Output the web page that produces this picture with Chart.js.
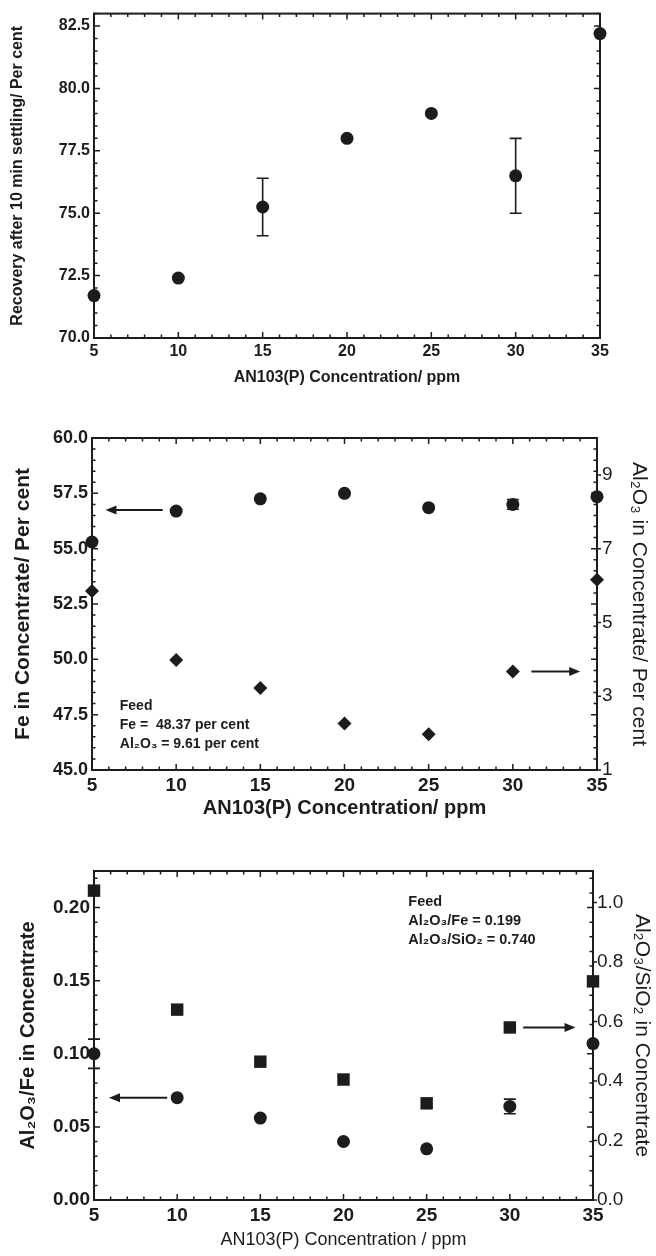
<!DOCTYPE html>
<html>
<head>
<meta charset="utf-8">
<script src="https://cdn.jsdelivr.net/npm/chart.js@4.4.1/dist/chart.umd.min.js"></script>
<style>
  body { margin: 0; background: #fff; }
  canvas.panel { position: absolute; left: 0; }
</style>
</head>
<body>
<canvas id="panelA" class="panel" width="656" height="400" style="top:0px"></canvas>
<canvas id="panelB" class="panel" width="656" height="420" style="top:410px"></canvas>
<canvas id="panelC" class="panel" width="656" height="416" style="top:840px"></canvas>
<script>
(function () {
    'use strict';

    // AN103(P) dosage, ppm (shared x values)
    var concentration = [5, 10, 15, 20, 25, 30, 35];
    var xTicks = [5, 10, 15, 20, 25, 30, 35];

    // Panel A: recovery after 10 min settling
    var recovery = [71.7, 72.4, 75.25, 78.0, 79.0, 76.5, 82.2];
    var recoveryErr = [0, 0, 1.15, 0, 0, 1.5, 0];
    var recoveryTicks = [70, 72.5, 75, 77.5, 80, 82.5];

    // Panel B: Fe and Al2O3 grade of the concentrate
    var feGrade = [55.3, 56.7, 57.25, 57.5, 56.85, 57.0, 57.35];
    var feErr = [0, 0, 0, 0, 0, 0.22, 0];
    var al2o3Grade = [5.85, 3.98, 3.22, 2.26, 1.97, 3.67, 6.16];
    var feTicks = [45, 47.5, 50, 52.5, 55, 57.5, 60];
    var al2o3Ticks = [1, 3, 5, 7, 9];

    // Panel C: Al2O3/Fe and Al2O3/SiO2 ratios
    var al2o3FeRatio = [0.100, 0.070, 0.056, 0.040, 0.035, 0.064, 0.107];
    var al2o3FeErr = [0.01, 0, 0, 0, 0, 0.005, 0];
    var al2o3SiO2Ratio = [1.04, 0.64, 0.465, 0.405, 0.325, 0.58, 0.735];
    var ratioFeTicks = [0, 0.05, 0.10, 0.15, 0.20];
    var ratioSiTicks = [0, 0.2, 0.4, 0.6, 0.8, 1.0];

    var SANS = "'Liberation Sans', Arial, 'DejaVu Sans', sans-serif";
    var INK = '#1c1c1c';

    function points(ys) {
        return concentration.map(function (x, i) { return { x: x, y: ys[i] }; });
    }

    function fixedTicks(list) {
        return function (scale) {
            scale.ticks = list.map(function (v) { return { value: v }; });
        };
    }

    function fixWidth(w) { return function (s) { s.width = w; }; }
    function fixHeight(h) { return function (s) { s.height = h; }; }

    function isMajor(v, step) {
        return Math.abs(v / step - Math.round(v / step)) < 1e-6;
    }

    // frame with inward major/minor ticks on all four sides
    var framePlugin = {
        id: 'frame',
        beforeDatasetsDraw: function (chart, args, opts) {
            var a = chart.chartArea, ctx = chart.ctx;
            var xs = chart.scales.x, ys = chart.scales.y, y2 = chart.scales.y2;
            ctx.save();
            ctx.strokeStyle = INK;
            ctx.lineWidth = 2;
            ctx.strokeRect(a.left, a.top, a.right - a.left, a.bottom - a.top);
            ctx.lineWidth = 1.5;
            ctx.beginPath();
            var i, v, p, len, n;
            n = Math.floor((xs.max - xs.min) / opts.xMinor + 1e-6);
            for (i = 0; i <= n; i++) {
                v = xs.min + i * opts.xMinor;
                len = isMajor(v, opts.xMajor) ? 6 : 3.5;
                p = xs.getPixelForValue(v);
                ctx.moveTo(p, a.bottom); ctx.lineTo(p, a.bottom - len);
                ctx.moveTo(p, a.top); ctx.lineTo(p, a.top + len);
            }
            n = Math.floor((ys.max - ys.min) / opts.yMinor + 1e-6);
            for (i = 0; i <= n; i++) {
                v = ys.min + i * opts.yMinor;
                len = isMajor(v, opts.yMajor) ? 6 : 3.5;
                p = ys.getPixelForValue(v);
                ctx.moveTo(a.left, p); ctx.lineTo(a.left + len, p);
                ctx.moveTo(a.right, p); ctx.lineTo(a.right - len, p);
            }
            if (y2) {
                y2.ticks.forEach(function (t) {
                    var q = y2.getPixelForValue(t.value);
                    ctx.moveTo(a.right, q); ctx.lineTo(a.right + 4, q);
                });
            }
            ctx.stroke();
            ctx.restore();
        }
    };

    // vertical error bars, arrows and feed notes
    var extrasPlugin = {
        id: 'extras',
        afterDatasetsDraw: function (chart, args, opts) {
            var ctx = chart.ctx, xs = chart.scales.x;
            ctx.save();
            ctx.strokeStyle = INK;
            ctx.fillStyle = INK;
            chart.data.datasets.forEach(function (ds) {
                if (!ds.errorBars) return;
                var ys = chart.scales[ds.yAxisID || 'y'];
                ctx.lineWidth = 1.6;
                ctx.beginPath();
                ds.data.forEach(function (pt, i) {
                    var e = ds.errorBars[i];
                    if (!e) return;
                    var px = xs.getPixelForValue(pt.x);
                    var hi = ys.getPixelForValue(pt.y + e), lo = ys.getPixelForValue(pt.y - e);
                    ctx.moveTo(px, hi); ctx.lineTo(px, lo);
                    ctx.moveTo(px - 6, hi); ctx.lineTo(px + 6, hi);
                    ctx.moveTo(px - 6, lo); ctx.lineTo(px + 6, lo);
                });
                ctx.stroke();
            });
            (opts.arrows || []).forEach(function (ar) {
                var ys = chart.scales[ar.axis];
                var x1 = xs.getPixelForValue(ar.from), x2 = xs.getPixelForValue(ar.to);
                var y = ys.getPixelForValue(ar.y);
                var dir = x2 > x1 ? 1 : -1;
                ctx.lineWidth = 2;
                ctx.beginPath();
                ctx.moveTo(x1, y); ctx.lineTo(x2 - dir * 8, y);
                ctx.stroke();
                ctx.beginPath();
                ctx.moveTo(x2, y);
                ctx.lineTo(x2 - dir * 11, y - 4.5);
                ctx.lineTo(x2 - dir * 11, y + 4.5);
                ctx.closePath();
                ctx.fill();
            });
            if (opts.note) {
                var nt = opts.note;
                var nx = xs.getPixelForValue(nt.x), ny = chart.scales[nt.axis].getPixelForValue(nt.y);
                ctx.font = nt.font;
                ctx.textAlign = 'left';
                ctx.textBaseline = 'middle';
                nt.lines.forEach(function (line, i) {
                    ctx.fillText(line, nx, ny + i * nt.lineHeight);
                });
            }
            ctx.restore();
        }
    };

    var noGrid = { display: false, drawTicks: false };

    function xScale(tickSize, titleText, titleFont, titlePad, height) {
        return {
            type: 'linear',
            min: 5, max: 35,
            afterBuildTicks: fixedTicks(xTicks),
            afterFit: fixHeight(height),
            grid: noGrid,
            border: { display: false },
            ticks: { color: INK, padding: 4, maxRotation: 0, font: { family: SANS, size: tickSize, weight: 'bold' } },
            title: { display: true, text: titleText, color: INK, font: titleFont, padding: { top: 0, bottom: titlePad } }
        };
    }

    function baseOptions(padding) {
        return {
            responsive: false,
            animation: false,
            events: [],
            layout: { padding: padding, autoPadding: false },
            plugins: { legend: { display: false }, tooltip: { enabled: false } }
        };
    }

    // ---- Panel A ----
    var optA = baseOptions({ top: 4, right: 56, left: 0, bottom: 0 });
    optA.scales = {
        x: xScale(16, 'AN103(P) Concentration/ ppm', { family: SANS, size: 16, weight: 'bold' }, 12.4, 62),
        y: {
            type: 'linear', position: 'left', min: 70, max: 83,
            afterBuildTicks: fixedTicks(recoveryTicks),
            afterFit: fixWidth(94),
            grid: noGrid, border: { display: false },
            ticks: { color: INK, padding: 4, font: { family: SANS, size: 16, weight: 'bold' },
                callback: function (v) { return v.toFixed(1); } },
            title: { display: true, text: 'Recovery after 10 min settling/ Per cent', color: INK,
                font: { family: SANS, size: 16, weight: 'bold' }, padding: { top: 8.4, bottom: 0 } }
        }
    };
    optA.plugins.frame = { xMinor: 1, xMajor: 5, yMinor: 0.5, yMajor: 2.5 };
    optA.plugins.extras = {};

    new Chart(document.getElementById('panelA'), {
        type: 'scatter',
        data: {
            datasets: [{
                data: points(recovery), errorBars: recoveryErr, clip: false,
                pointStyle: 'circle', pointRadius: 6.5, backgroundColor: INK, borderColor: INK, borderWidth: 0
            }]
        },
        options: optA,
        plugins: [framePlugin, extrasPlugin]
    });

    // ---- Panel B ----
    var optB = baseOptions({ top: 28, right: 0, left: 0, bottom: 0 });
    optB.scales = {
        x: xScale(19, 'AN103(P) Concentration/ ppm', { family: SANS, size: 20, weight: 'bold' }, 10, 60),
        y: {
            type: 'linear', position: 'left', min: 45, max: 60,
            afterBuildTicks: fixedTicks(feTicks),
            afterFit: fixWidth(92),
            grid: noGrid, border: { display: false },
            ticks: { color: INK, padding: 4, font: { family: SANS, size: 18, weight: 'bold' },
                callback: function (v) { return v.toFixed(1); } },
            title: { display: true, text: 'Fe in Concentrate/ Per cent', color: INK,
                font: { family: SANS, size: 21, weight: 'bold' }, padding: { top: 10.4, bottom: 0 } }
        },
        y2: {
            type: 'linear', position: 'right', min: 1, max: 10,
            afterBuildTicks: fixedTicks(al2o3Ticks),
            afterFit: fixWidth(59),
            grid: noGrid, border: { display: false },
            ticks: { color: INK, padding: 5, font: { family: SANS, size: 19 } },
            title: { display: true, text: 'Al\u2082O\u2083 in Concentrate/ Per cent', color: INK,
                font: { family: SANS, size: 21 }, padding: { top: 4.4, bottom: 0 } }
        }
    };
    optB.plugins.frame = { xMinor: 1, xMajor: 5, yMinor: 0.5, yMajor: 2.5 };
    optB.plugins.extras = {
        arrows: [
            { from: 9.2, to: 5.8, y: 56.75, axis: 'y' },
            { from: 31.1, to: 34.0, y: 3.67, axis: 'y2' }
        ],
        note: {
            x: 6.65, y: 47.9, axis: 'y', lineHeight: 19,
            font: 'bold 14px ' + SANS,
            lines: ['Feed', 'Fe =  48.37 per cent', 'Al\u2082O\u2083 = 9.61 per cent']
        }
    };

    new Chart(document.getElementById('panelB'), {
        type: 'scatter',
        data: {
            datasets: [{
                data: points(feGrade), yAxisID: 'y', errorBars: feErr, clip: false,
                pointStyle: 'circle', pointRadius: 6.5, backgroundColor: INK, borderColor: INK, borderWidth: 0
            }, {
                data: points(al2o3Grade), yAxisID: 'y2', clip: false,
                pointStyle: 'rectRot', pointRadius: 7, backgroundColor: INK, borderColor: INK, borderWidth: 0
            }]
        },
        options: optB,
        plugins: [framePlugin, extrasPlugin]
    });

    // ---- Panel C ----
    var optC = baseOptions({ top: 31, right: 0, left: 0, bottom: 0 });
    optC.scales = {
        x: xScale(19, 'AN103(P) Concentration / ppm', { family: SANS, size: 18 }, 5.2, 56),
        y: {
            type: 'linear', position: 'left', min: 0, max: 0.225,
            afterBuildTicks: fixedTicks(ratioFeTicks),
            afterFit: fixWidth(94),
            grid: noGrid, border: { display: false },
            ticks: { color: INK, padding: 4, font: { family: SANS, size: 19, weight: 'bold' },
                callback: function (v) { return v.toFixed(2); } },
            title: { display: true, text: 'Al\u2082O\u2083/Fe in Concentrate', color: INK,
                font: { family: SANS, size: 20, weight: 'bold' }, padding: { top: 16, bottom: 0 } }
        },
        y2: {
            type: 'linear', position: 'right', min: 0, max: 1.106,
            afterBuildTicks: fixedTicks(ratioSiTicks),
            afterFit: fixWidth(63),
            grid: noGrid, border: { display: false },
            ticks: { color: INK, padding: 4, font: { family: SANS, size: 19 },
                callback: function (v) { return v.toFixed(1); } },
            title: { display: true, text: 'Al\u2082O\u2083/SiO\u2082 in Concentrate', color: INK,
                font: { family: SANS, size: 21 }, padding: { top: 1.4, bottom: 0 } }
        }
    };
    optC.plugins.frame = { xMinor: 1, xMajor: 5, yMinor: 0.01, yMajor: 0.05 };
    optC.plugins.extras = {
        arrows: [
            { from: 9.4, to: 5.9, y: 0.070, axis: 'y' },
            { from: 30.8, to: 33.95, y: 0.58, axis: 'y2' }
        ],
        note: {
            x: 23.9, y: 0.2036, axis: 'y', lineHeight: 19,
            font: 'bold 14.5px ' + SANS,
            lines: ['Feed', 'Al\u2082O\u2083/Fe = 0.199', 'Al\u2082O\u2083/SiO\u2082 = 0.740']
        }
    };

    new Chart(document.getElementById('panelC'), {
        type: 'scatter',
        data: {
            datasets: [{
                data: points(al2o3FeRatio), yAxisID: 'y', errorBars: al2o3FeErr, clip: false,
                pointStyle: 'circle', pointRadius: 6.5, backgroundColor: INK, borderColor: INK, borderWidth: 0
            }, {
                data: points(al2o3SiO2Ratio), yAxisID: 'y2', clip: false,
                pointStyle: 'rect', pointRadius: 8.8, backgroundColor: INK, borderColor: INK, borderWidth: 0
            }]
        },
        options: optC,
        plugins: [framePlugin, extrasPlugin]
    });
})();
</script>
</body>
</html>
